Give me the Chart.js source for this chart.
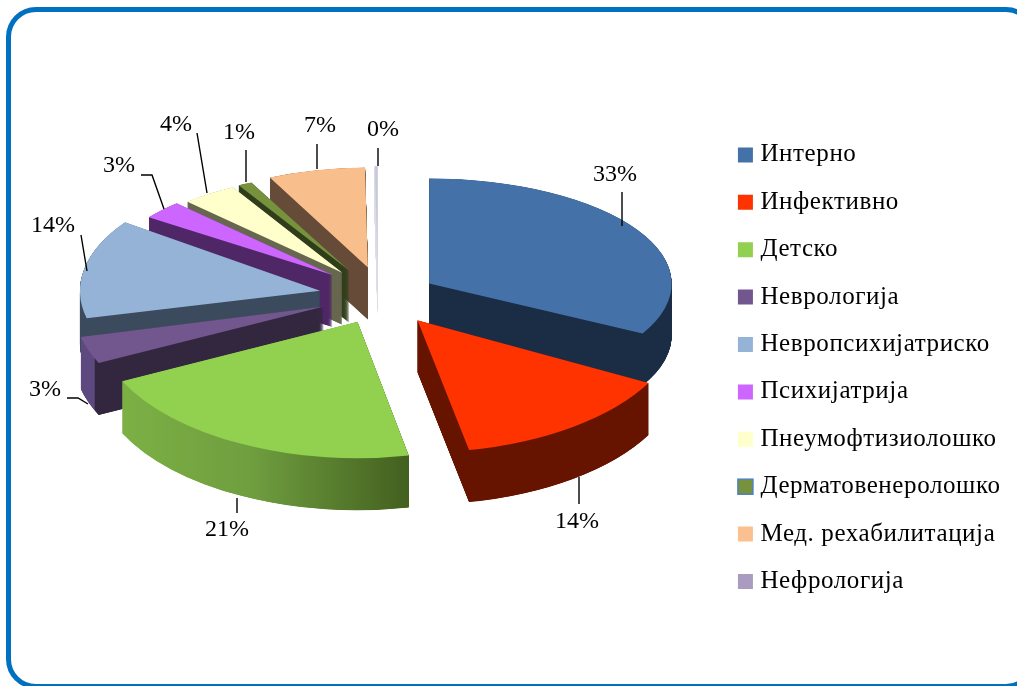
<!DOCTYPE html>
<html><head><meta charset="utf-8">
<style>
html,body{margin:0;padding:0;background:#fff;overflow:hidden}
#frame{position:absolute;left:6px;top:7px;width:1030px;height:682px;box-sizing:border-box;border:5px solid #0070c0;border-radius:30px}
canvas{position:absolute;left:0;top:0;display:block}
</style>
<script src="https://cdn.jsdelivr.net/npm/chart.js@4/dist/chart.umd.min.js"></script>
</head><body>
<div id="frame"></div>
<canvas id="c" width="1017" height="686"></canvas>
<script>
// data
const categories = ['Интерно','Инфективно','Детско','Неврологија','Невропсихијатриско','Психијатрија','Пнеумофтизиолошко','Дерматовенеролошко','Мед. рехабилитација','Нефрологија'];
const shares = [32.9,14,21,3.4,13.7,3,4,1,6.9,0.2];
const shareLabels = ['33%','14%','21%','3%','14%','3%','4%','1%','7%','0%'];
// styles
const topColors = ['#4472a8','#ff3300','#92d050','#72578f','#95b3d7','#cc66ff','#ffffcc','#76923c','#f8be8c','#c9c9dc'];
const legendColors = ['#4472a8','#ff3300','#92d050','#72578f','#95b3d7','#cc66ff','#ffffcc','#76923c','#fac090','#aa9bc0'];
const wallStops = [
 [[0,'#1b2d45'],[1,'#1b2d45']],
 [[0,'#661400'],[1,'#661400']],
 [[0,'#7cb044'],[0.45,'#6f9e3f'],[1,'#43601f']],
 [[0,'#5e4880'],[0.055,'#5e4880'],[0.06,'#33263f'],[1,'#33263f']],
 [[0,'#3b4a5c'],[1,'#3b4a5c']],
 [[0,'#4f2666'],[1,'#4f2666']],
 [[0,'#676750'],[1,'#676750']],
 [[0,'#2f3d1a'],[1,'#2f3d1a']],
 [[0,'#664c38'],[1,'#664c38']],
 [[0,'#dcdce6'],[1,'#dcdce6']]
];
// layout of the tilted pie
const pieCentre = {x:385,y:298};
const wallDepth = 52;
const wallStep = 0.25;
const sliceGapPx = [53,52,57,65,69,77,80,78,78,80];
const widthScale = [0.97,1.05,1.045,1.0,0.96,0.905,0.9,0.91,0.91,0.9];
const tilt = [0.42,0.53,0.545,0.52,0.47,0.396,0.392,0.392,0.4,0.385];
const nudge = [[0,-3],[0,0],[-1,-4],[0,-3],[0,-1],[0,-3],[0,0],[-3,0],[-1,0],[-7,-5]];
const paintOrder = [9,8,7,6,5,4,3,0,2,1];
// callouts: label centre, then leader line points
const callouts = [
 {t:[615,175],l:[[622,192],[622,226]]},
 {t:[577,522],l:[[579,477],[579,504]]},
 {t:[227,530],l:[[237,498],[237,513]]},
 {t:[45,390],l:[[67,398],[78,398],[88,404]]},
 {t:[53,226],l:[[81,235],[87,271]]},
 {t:[119,166],l:[[141,175],[152,175],[164,209]]},
 {t:[176,125],l:[[197,133],[207,193]]},
 {t:[239,133],l:[[246,150],[246,182]]},
 {t:[320,126],l:[[317,144],[317,169]]},
 {t:[383,130],l:[[378,148],[378,166]]}
];
const serif = '"Liberation Serif", serif';

function drawSlice(ctx, arc, i, depth, fill){
  const ghost = Object.create(arc);
  ghost.options = Object.assign({}, arc.options, {backgroundColor: fill, borderWidth:0});
  // Chart.js also grows a slice's radius and trims its arc as the offset rises; undo both
  const grown = sliceGapPx[i] * (1 - Math.sin(Math.min(Math.PI, arc.circumference)));
  const trim = grown / Math.PI / arc.outerRadius / 2;
  ghost.outerRadius = arc.outerRadius - grown;
  ghost.startAngle = arc.startAngle - trim;
  ghost.endAngle = arc.endAngle + trim;
  ctx.save();
  ctx.translate(pieCentre.x + nudge[i][0], pieCentre.y + nudge[i][1] + depth);
  ctx.scale(widthScale[i], tilt[i]);
  ctx.translate(-arc.x, -arc.y);
  ghost.draw(ctx);
  ctx.restore();
}
function wallFill(ctx, arc, i){
  const r = arc.outerRadius;
  const xs = [Math.cos(arc.startAngle), Math.cos(arc.endAngle), 0];
  const g = ctx.createLinearGradient(arc.x + r*Math.min(...xs), 0, arc.x + r*Math.max(...xs), 0);
  wallStops[i].forEach(s => g.addColorStop(s[0], s[1]));
  return g;
}
const tiltedPie = {
  id:'tiltedPie',
  beforeLayout(chart){ chart.ctx.letterSpacing = '0.6px'; },
  beforeDraw(chart){ chart.ctx.letterSpacing = '0.6px'; },
  beforeDatasetsDraw(chart){
    const ctx = chart.ctx, arcs = chart.getDatasetMeta(0).data;
    paintOrder.forEach(i => {
      const arc = arcs[i], g = wallFill(ctx, arc, i);
      for (let d = wallDepth; d > 0; d -= wallStep) drawSlice(ctx, arc, i, d, g);
      drawSlice(ctx, arc, i, 0, topColors[i]);
    });
    return false;
  },
  afterDraw(chart){
    const ctx = chart.ctx;
    ctx.save();
    ctx.letterSpacing = '0px';
    ctx.strokeStyle = '#000'; ctx.lineWidth = 1.4;
    callouts.forEach((c,i) => {
      ctx.beginPath();
      c.l.forEach((p,j) => j ? ctx.lineTo(p[0],p[1]) : ctx.moveTo(p[0],p[1]));
      ctx.stroke();
      ctx.fillStyle = '#000';
      ctx.font = '24px ' + serif;
      ctx.textAlign = 'center'; ctx.textBaseline = 'middle';
      ctx.fillText(shareLabels[i], c.t[0], c.t[1]);
    });
    const box = chart.legend.legendHitBoxes[7];
    const sizeBox = 15;
    ctx.strokeStyle = '#4f81bd'; ctx.lineWidth = 1.5;
    ctx.strokeRect(box.left-5, box.top+(box.height-sizeBox)/2, sizeBox, sizeBox);
    ctx.restore();
  }
};
new Chart(document.getElementById('c'), {
  type:'pie',
  data:{labels:categories, datasets:[{data:shares, backgroundColor:topColors, borderWidth:0, offset:sliceGapPx.map(v=>v*4), radius:250}]},
  options:{
    responsive:false, animation:false,
    layout:{padding:{top:120,bottom:0,left:0,right:6.5}},
    plugins:{
      tooltip:{enabled:false},
      legend:{
        position:'right', align:'start',
        labels:{
          boxWidth:5, boxHeight:5, padding:22.4, color:'#000',
          font:{family:serif,size:25},
          generateLabels(){
            return categories.map((t,i)=>({text:t, fillStyle:legendColors[i], strokeStyle:legendColors[i], lineWidth:10, lineJoin:'miter', index:i, hidden:false, fontColor:'#000'}));
          }
        }
      }
    }
  },
  plugins:[tiltedPie]
});
</script>
</body></html>
